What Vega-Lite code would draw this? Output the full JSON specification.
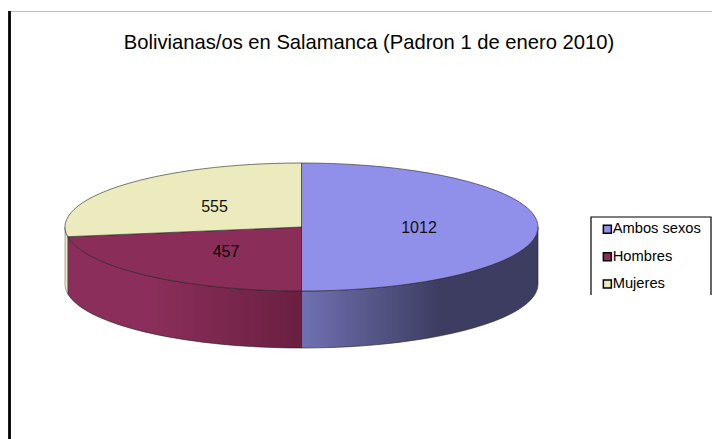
{
"$schema":"https://vega.github.io/schema/vega-lite/v6.json",
"width":702,"height":428,
"autosize":"none",
"padding":{"left":10,"top":11,"right":0,"bottom":0},
"background":"white",
"view":{"stroke":"#bdbdbd","strokeWidth":1},
"title":{"text":"Bolivianas/os en Salamanca (Padron 1 de enero 2010)","font":"Liberation Sans","fontSize":20.2,"fontWeight":"normal","color":"#000","anchor":"middle","dx":8,"dy":43,"offset":0},
"data":{"values":[{"sexo":"Ambos sexos","valor":1012},{"sexo":"Hombres","valor":457},{"sexo":"Mujeres","valor":555}]},
"config":{"font":"Liberation Sans"},
"layer":[
{"mark":{"type":"rule","color":"#000","strokeWidth":2,"xOffset":-0.5},"encoding":{"x":{"datum":0,"type":"quantitative","scale":{"domain":[0,1]},"axis":null}}},
{"transform":[{"filter":"datum.sexo==='Ambos sexos'"}],
 "mark":{"type":"point","filled":true,"opacity":1,"size":4,"stroke":"#222","strokeWidth":0.6,
 "shape":"M 177 2 A 236.5 64 0 0 1 -59.5 66 L -59.5 123 A 236.5 64 0 0 0 177 59 Z",
 "fill":{"gradient":"linear","x1":0,"y1":0,"x2":1,"y2":0,"stops":[{"offset":0,"color":"#7071b2"},{"offset":0.58,"color":"#3d3d62"},{"offset":1,"color":"#3d3d62"}]}}},
{"transform":[{"filter":"datum.sexo==='Hombres'"}],
 "mark":{"type":"point","filled":true,"opacity":1,"size":4,"stroke":"#222","strokeWidth":0.6,
 "shape":"M -59.5 66 A 236.5 64 0 0 1 -293.3 11.7 L -293.3 68.7 A 236.5 64 0 0 0 -59.5 123 Z",
 "fill":{"gradient":"linear","x1":0,"y1":0,"x2":1,"y2":0,"stops":[{"offset":0,"color":"#8b2e5b"},{"offset":0.35,"color":"#8b2e5b"},{"offset":1,"color":"#6a2040"}]}}},
{"transform":[{"filter":"datum.sexo==='Mujeres'"}],
 "mark":{"type":"point","filled":true,"opacity":1,"size":4,"stroke":"#555","strokeWidth":0.5,"fill":"#ecebbd",
 "shape":"M -293.3 11.7 A 236.5 64 0 0 1 -296 2 L -296 59 A 236.5 64 0 0 0 -293.3 68.7 Z"}},
{"transform":[{"filter":"datum.sexo==='Ambos sexos'"}],
 "mark":{"type":"point","filled":true,"opacity":1,"size":4,"stroke":"#222","strokeWidth":0.6,"fill":"#9090ea",
 "shape":"M -59.5 2 L -59.5 -62 A 236.5 64 0 0 1 -59.5 66 Z"}},
{"transform":[{"filter":"datum.sexo==='Hombres'"}],
 "mark":{"type":"point","filled":true,"opacity":1,"size":4,"stroke":"#222","strokeWidth":0.6,"fill":"#8b2d59",
 "shape":"M -59.5 2 L -59.5 66 A 236.5 64 0 0 1 -293.3 11.7 Z"}},
{"transform":[{"filter":"datum.sexo==='Mujeres'"}],
 "mark":{"type":"point","filled":true,"opacity":1,"size":4,"stroke":"#222","strokeWidth":0.6,"fill":"#ecebbd",
 "shape":"M -59.5 2 L -293.3 11.7 A 236.5 64 0 0 1 -59.5 -62 Z"}},
{"mark":{"type":"square","size":0,"opacity":1,"filled":true},
 "encoding":{
  "color":{"field":"sexo","type":"nominal","scale":{"domain":["Ambos sexos","Hombres","Mujeres"],"range":["#9090ea","#8b2d59","#ecebbd"]},
   "legend":{"title":null,"orient":"none","legendX":590,"legendY":211,"symbolType":"square","symbolSize":64,"symbolStrokeColor":"#000","symbolStrokeWidth":1.5,"symbolOpacity":1,"labelFont":"Liberation Sans","labelFontSize":14.7,"labelColor":"#000","labelOffset":-2,"rowPadding":11.3,"labelLimit":200}}
 }},
{"transform":[{"filter":"datum.sexo==='Ambos sexos'"}],
 "mark":{"type":"text","font":"Liberation Sans","fontSize":16,"color":"#111","dx":58,"dy":3,"baseline":"middle"},"encoding":{"text":{"field":"valor","type":"quantitative"}}},
{"transform":[{"filter":"datum.sexo==='Hombres'"}],
 "mark":{"type":"text","font":"Liberation Sans","fontSize":16,"color":"#000","dx":-135,"dy":27,"baseline":"middle"},"encoding":{"text":{"field":"valor","type":"quantitative"}}},
{"transform":[{"filter":"datum.sexo==='Mujeres'"}],
 "mark":{"type":"text","font":"Liberation Sans","fontSize":16,"color":"#111","dx":-146.5,"dy":-18,"baseline":"middle"},"encoding":{"text":{"field":"valor","type":"quantitative"}}},
{"transform":[{"filter":"datum.sexo==='Ambos sexos'"}],
 "mark":{"type":"point","filled":false,"opacity":1,"size":4,"stroke":"#000","strokeWidth":1.2,
 "shape":"M 230 70 L 230 -8 L 350 -8 L 350 70"}}
]
}
